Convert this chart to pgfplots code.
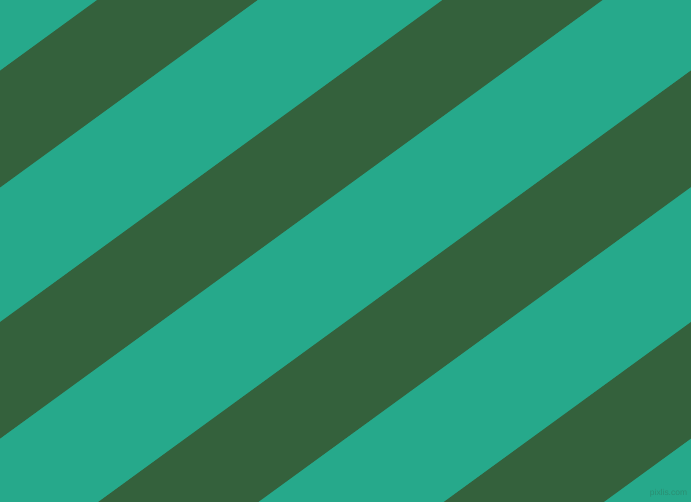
\documentclass[border=0pt]{standalone}
\usepackage{pgfplots}
\pgfplotsset{compat=1.18}
\usepackage{fontspec}
\setmainfont{Liberation Sans}

\definecolor{jungle}{HTML}{26A98B}
\definecolor{hunter}{HTML}{34613C}
\definecolor{mark}{HTML}{2B8E72}

\begin{document}
\begin{tikzpicture}
\begin{axis}[
    width=691bp,
    height=502bp,
    scale only axis,
    hide axis,
    xmin=0, xmax=691,
    ymin=0, ymax=502,
    clip=true,
    ]
% background
\addplot[fill=jungle, draw=none] coordinates {
    (0,0) (691,0) (691,502) (0,502)
};
% dark stripes, slope 0.728
\addplot[fill=hunter, draw=none] coordinates {
    (0,431.3) (691,934.3) (691,817.5) (0,314.5)
};
\addplot[fill=hunter, draw=none] coordinates {
    (0,179.9) (691,682.9) (691,566.4) (0,63.4)
};
\addplot[fill=hunter, draw=none] coordinates {
    (0,-71.5) (691,431.5) (691,315) (0,-188)
};
\addplot[fill=hunter, draw=none] coordinates {
    (0,-323) (691,180) (691,63.5) (0,-439.5)
};
\node[text=mark, font=\fontsize{8.5}{9}\selectfont, inner sep=0pt] at (axis cs:668.5,8.5) {pixlis.com};
\end{axis}
\end{tikzpicture}
\end{document}
